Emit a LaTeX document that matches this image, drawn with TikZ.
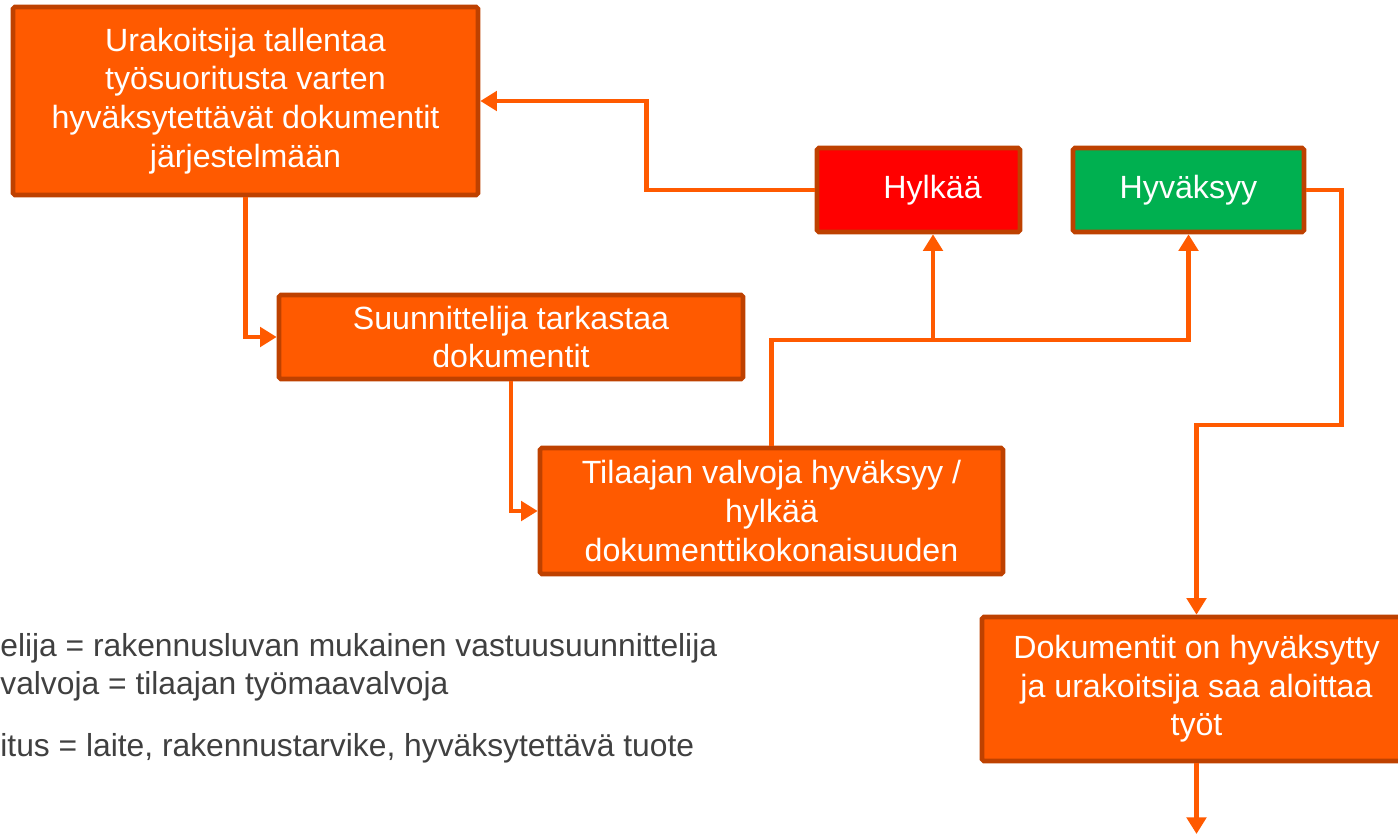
\documentclass[tikz,border=0pt]{standalone}
\usepackage{fontspec}
\setmainfont{Liberation Sans}
\usetikzlibrary{arrows.meta}
\definecolor{oranssi}{RGB}{255,90,0}
\definecolor{reuna}{RGB}{190,65,0}
\definecolor{punainen}{RGB}{255,0,0}
\definecolor{vihrea}{RGB}{0,176,80}
\definecolor{harmaa}{RGB}{64,64,64}
\tikzset{
  box/.style={rectangle, rounded corners=1pt, draw=reuna, line width=2.6pt, fill=oranssi,
    text=white, align=center, inner sep=0pt,
    font=\fontsize{18.3}{22}\selectfont},
  conn/.style={draw=oranssi, line width=2.6pt},
  arr/.style={conn, -{Triangle[length=9.5pt,width=11pt]}},
  selite/.style={anchor=base west, inner sep=0pt, text=harmaa,
    font=\fontsize{18.1}{22}\selectfont}
}
\begin{document}
\begin{tikzpicture}[x=0.02cm, y=-0.02cm]
\useasboundingbox (0,0) rectangle (1398,834);
% laatikot
\node[box, minimum width=465*0.02cm, minimum height=188*0.02cm] (ura) at (245.5,101)
  {Urakoitsija tallentaa\\ty\"osuoritusta varten\\hyv\"aksytett\"av\"at dokumentit\\j\"arjestelm\"a\"an};
\node[box, fill=punainen, minimum width=203*0.02cm, minimum height=84*0.02cm] (hylk) at (918.5,190)
  {\hspace*{16pt}Hylk\"a\"a};
\node[box, fill=vihrea, minimum width=231*0.02cm, minimum height=84*0.02cm] (hyva) at (1188.5,190)
  {Hyv\"aksyy};
\node[box, minimum width=464*0.02cm, minimum height=84*0.02cm] (suun) at (511,337)
  {Suunnittelija tarkastaa\\dokumentit};
\node[box, minimum width=463*0.02cm, minimum height=126*0.02cm] (tila) at (771.5,511)
  {Tilaajan valvoja hyv\"aksyy /\\hylk\"a\"a\\dokumenttikokonaisuuden};
\node[box, minimum width=429*0.02cm, minimum height=144*0.02cm] (doku) at (1196.5,689)
  {Dokumentit on hyv\"aksytty\\ja urakoitsija saa aloittaa\\ty\"ot};
% selitteet
\node[selite] (sel1) at (0,656) {elija = rakennusluvan mukainen vastuusuunnittelija};
\node[selite] (sel2) at (0,694) {valvoja = tilaajan ty\"omaavalvoja};
\node[selite] (sel3) at (0,756) {itus = laite, rakennustarvike, hyv\"aksytett\"av\"a tuote};
% yhteydet
\coordinate (haara) at (933,340);
\coordinate (loppu) at (1196.5,834);
\draw[arr] (hylk.west) -- ++(-168,0) |- (ura.east);
\draw[arr] (ura.south) |- (suun.west);
\draw[arr] (suun.south) |- (tila.west);
\draw[arr] (tila.north) |- (haara) -| (hyva.south);
\draw[arr] (haara) -- (haara |- hylk.south);
\draw[arr] (hyva.east) -- ++(35,0) -- ++(0,235) -| (doku.north);
\draw[arr] (doku.south) -- (loppu);
\end{tikzpicture}
\end{document}
